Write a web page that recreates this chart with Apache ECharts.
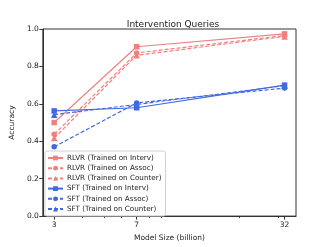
<!DOCTYPE html>
<html>
<head>
<meta charset="utf-8">
<script src="https://cdn.jsdelivr.net/npm/echarts@6/dist/echarts.min.js"></script>
<style>html,body{margin:0;padding:0;background:#fff;}#c{width:329px;height:247px;}</style>
</head>
<body>
<div id="c"></div>
<script>
const modelSizes = [3, 7, 32];
const xTickLabels = [3, 7, 32];
const xMinorTicks = [4, 5, 6, 8, 9, 20, 30];
const yTicks = [0, 0.2, 0.4, 0.6, 0.8, 1.0];

const rlvrInterv = [0.50, 0.905, 0.974];
const rlvrAssoc = [0.437, 0.872, 0.965];
const rlvrCounter = [0.417, 0.860, 0.960];
const sftInterv = [0.562, 0.579, 0.700];
const sftAssoc = [0.370, 0.605, 0.684];
const sftCounter = [0.542, 0.597, 0.697];

const RED = '#F08080';
const BLUE = '#4169E1';
const FONT = 'DejaVu Sans';

function mk(name, vals, color, dashed, symbol) {
  return {
    name: name,
    type: 'line',
    data: modelSizes.map((x, i) => [x, vals[i]]),
    symbol: symbol,
    symbolSize: symbol === 'triangle' ? 6.5 : 5.5,
    lineStyle: { color: color, width: 1.2, type: dashed ? [4, 2] : 'solid' },
    itemStyle: { color: color },
    emphasis: { disabled: true },
    animation: false
  };
}

const chart = echarts.init(document.getElementById('c'), null, { renderer: 'canvas' });
chart.setOption({
  animation: false,
  textStyle: { fontFamily: FONT },
  title: {
    text: 'Intervention Queries',
    left: 168, top: 15, textAlign: 'center',
    textStyle: { fontFamily: FONT, fontSize: 9, fontWeight: 'normal', color: '#222' }
  },
  grid: { left: 40, right: 33, top: 29, bottom: 28, show: true, borderColor: '#333', borderWidth: 1, containLabel: false },
  xAxis: [{
    type: 'log', logBase: 10, min: 2.67, max: 36.0,
    name: 'Model Size (billion)', nameLocation: 'middle', nameGap: 16,
    nameTextStyle: { fontFamily: FONT, fontSize: 7.5, color: '#222' },
    axisLine: { show: true, lineStyle: { color: '#333', width: 1 } },
    axisTick: { show: true, length: 3.5, lineStyle: { color: '#333' }, customValues: xTickLabels },
    axisLabel: { customValues: xTickLabels, interval: 0, hideOverlap: false, showMinLabel: true, showMaxLabel: true,
      fontFamily: FONT, fontSize: 7.5, color: '#222', margin: 5, formatter: v => String(Math.round(v)) },
    splitLine: { show: false },
    minorTick: { show: false }
  }, {
    type: 'log', logBase: 10, min: 2.67, max: 36.0, position: 'bottom',
    axisLine: { show: false },
    axisTick: { show: true, length: 2, lineStyle: { color: '#333' }, customValues: xMinorTicks },
    axisLabel: { show: false, customValues: xMinorTicks },
    splitLine: { show: false }
  }],
  yAxis: {
    type: 'value', min: 0, max: 1, interval: 0.2,
    name: 'Accuracy', nameLocation: 'middle', nameGap: 20,
    nameTextStyle: { fontFamily: FONT, fontSize: 7.5, color: '#222' },
    axisLine: { show: true, lineStyle: { color: '#333', width: 1 } },
    axisTick: { show: true, length: 3.5, lineStyle: { color: '#333' } },
    axisLabel: { fontFamily: FONT, fontSize: 7.5, color: '#222', margin: 4, formatter: v => v.toFixed(1) },
    splitLine: { show: false }
  },
  legend: {
    orient: 'vertical', left: 45, top: 151,
    itemWidth: 15, itemHeight: 6, itemGap: 2.2,
    padding: [3, 4, 3, 2],
    backgroundColor: 'rgba(255,255,255,0.8)',
    borderColor: '#d0d0d0', borderWidth: 1, borderRadius: 2,
    textStyle: { fontFamily: FONT, fontSize: 7.2, lineHeight: 8, color: '#222', padding: [0, 0, 0, -1] },
    data: ['RLVR (Trained on Interv)', 'RLVR (Trained on Assoc)', 'RLVR (Trained on Counter)', 'SFT (Trained on Interv)', 'SFT (Trained on Assoc)', 'SFT (Trained on Counter)']
  },
  series: [
    mk('RLVR (Trained on Interv)', rlvrInterv, RED, false, 'rect'),
    mk('RLVR (Trained on Assoc)', rlvrAssoc, RED, true, 'circle'),
    mk('RLVR (Trained on Counter)', rlvrCounter, RED, true, 'triangle'),
    mk('SFT (Trained on Interv)', sftInterv, BLUE, false, 'rect'),
    mk('SFT (Trained on Assoc)', sftAssoc, BLUE, true, 'circle'),
    mk('SFT (Trained on Counter)', sftCounter, BLUE, true, 'triangle')
  ]
});
</script>
</body>
</html>
